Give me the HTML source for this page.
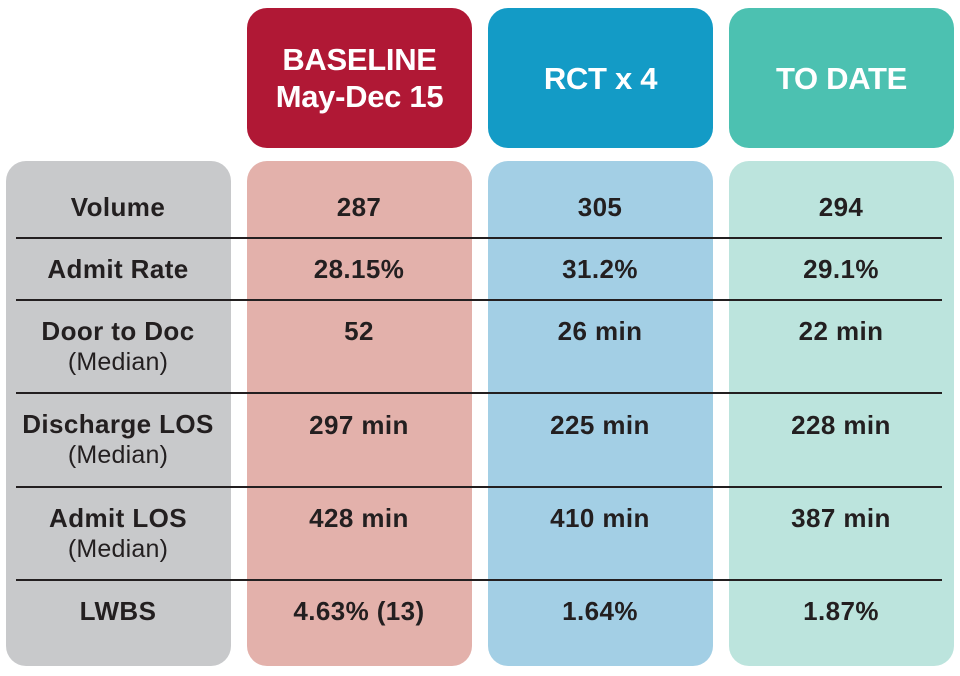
<!DOCTYPE html>
<html><head><meta charset="utf-8"><style>
body{margin:0;width:960px;height:676px;background:#fff;position:relative;overflow:hidden;font-family:"Liberation Sans",Arial,sans-serif;color:#231f20}
.b{position:absolute;border-radius:20px}
.h{position:absolute;color:#fff;font-weight:bold;font-size:31px;letter-spacing:-0.3px;text-align:center;line-height:37px;display:flex;align-items:center;justify-content:center;border-radius:20px}
.t{position:absolute;font-weight:bold;font-size:26px;letter-spacing:0.4px;text-align:center;transform:translate(-50%,-50%);white-space:nowrap;line-height:30px}
.t span{font-weight:normal;display:block;font-size:25px;letter-spacing:0.2px;line-height:32px}
.l{position:absolute;left:16px;width:926px;height:1.5px;background:#231f20}
</style></head><body>
<div class="h" style="left:247px;top:8px;width:225px;height:140px;background:#b01835">BASELINE<br>May-Dec 15</div>
<div class="h" style="left:488px;top:8px;width:225px;height:140px;background:#139bc6">RCT x 4</div>
<div class="h" style="left:729px;top:8px;width:225px;height:140px;background:#4cc1b1">TO DATE</div>
<div class="b" style="left:6px;top:161px;width:225px;height:505px;background:#c8c9cb"></div>
<div class="b" style="left:247px;top:161px;width:225px;height:505px;background:#e3b1ab"></div>
<div class="b" style="left:488px;top:161px;width:225px;height:505px;background:#a3cfe5"></div>
<div class="b" style="left:729px;top:161px;width:225px;height:505px;background:#bce4dd"></div>
<div class="l" style="top:237px"></div>
<div class="l" style="top:299px"></div>
<div class="l" style="top:392px"></div>
<div class="l" style="top:486px"></div>
<div class="l" style="top:579px"></div>

<div class="t" style="left:118px;top:207px">Volume</div>
<div class="t" style="left:359px;top:207px">287</div>
<div class="t" style="left:600px;top:207px">305</div>
<div class="t" style="left:841px;top:207px">294</div>

<div class="t" style="left:118px;top:269px">Admit Rate</div>
<div class="t" style="left:359px;top:269px">28.15%</div>
<div class="t" style="left:600px;top:269px">31.2%</div>
<div class="t" style="left:841px;top:269px">29.1%</div>

<div class="t" style="left:118px;top:347px">Door to Doc<span>(Median)</span></div>
<div class="t" style="left:359px;top:331px">52</div>
<div class="t" style="left:600px;top:331px">26 min</div>
<div class="t" style="left:841px;top:331px">22 min</div>

<div class="t" style="left:118px;top:440px">Discharge LOS<span>(Median)</span></div>
<div class="t" style="left:359px;top:425px">297 min</div>
<div class="t" style="left:600px;top:425px">225 min</div>
<div class="t" style="left:841px;top:425px">228 min</div>

<div class="t" style="left:118px;top:534px">Admit LOS<span>(Median)</span></div>
<div class="t" style="left:359px;top:518px">428 min</div>
<div class="t" style="left:600px;top:518px">410 min</div>
<div class="t" style="left:841px;top:518px">387 min</div>

<div class="t" style="left:118px;top:611px">LWBS</div>
<div class="t" style="left:359px;top:611px">4.63% (13)</div>
<div class="t" style="left:600px;top:611px">1.64%</div>
<div class="t" style="left:841px;top:611px">1.87%</div>
</body></html>
